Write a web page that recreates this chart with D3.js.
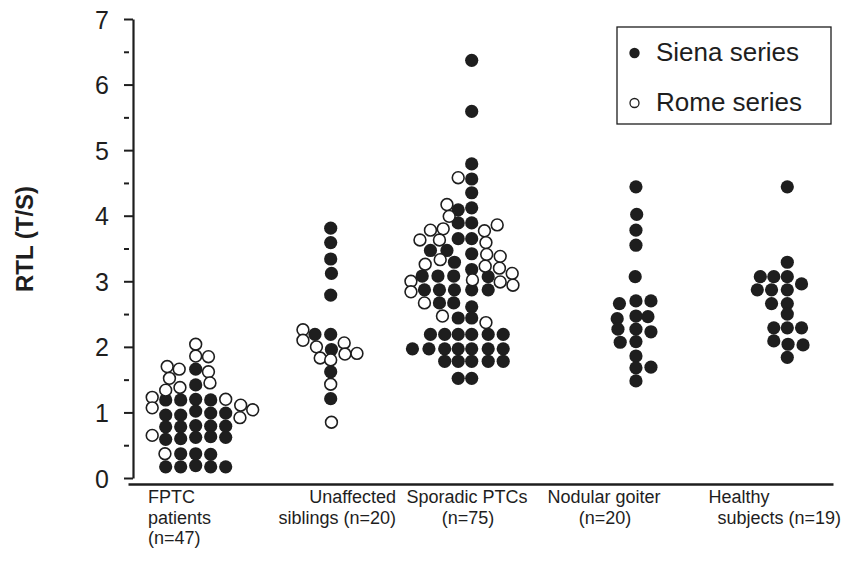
<!DOCTYPE html>
<html>
<head>
<meta charset="utf-8">
<script src="https://cdn.jsdelivr.net/npm/d3@7"></script>
<style>
  body { margin: 0; background: #fff; }
  svg { font-family: "Liberation Sans", Arial, Helvetica, sans-serif; }
</style>
</head>
<body>
<div id="chart"></div>
<script>

// groups along the x axis
var categories = ["FPTC patients", "Unaffected siblings", "Sporadic PTCs", "Nodular goiter", "Healthy subjects"];
// where each group's column of dots sits, in dot-column units
var groupSlot = [4.18, 13.18, 22.58, 33.53, 43.62];

// each dot is [RTL value, column within the group]
var fptcSiena = [
  [1.66, 0], [1.42, 0],
  [1.19, -2], [1.19, -1], [1.20, 0], [1.19, 1],
  [0.96, -2], [0.96, -1], [1.02, 0], [0.99, 1], [0.99, 2],
  [0.78, -2], [0.78, -1], [0.80, 0], [0.79, 1], [0.79, 2],
  [0.59, -2], [0.60, -1], [0.62, 0], [0.63, 1], [0.62, 2],
  [0.37, -1], [0.37, 0], [0.36, 1],
  [0.17, -2], [0.17, -1], [0.19, 0], [0.17, 1], [0.17, 2]
];
var fptcRome = [
  [2.04, 0], [1.86, 0], [1.85, 0.85], [1.70, -1.9], [1.66, -1.1], [1.62, 0.85],
  [1.52, -1.75], [1.45, 0.95], [1.34, -2], [1.38, -1.05], [1.23, -2.9], [1.07, -2.9],
  [1.20, 2.0], [1.11, 3.0], [1.04, 3.8], [0.92, 2.95], [0.65, -2.9], [0.37, -2.05]
];
var siblingsSiena = [
  [3.81, 0], [3.59, 0], [3.34, 0], [3.12, 0.05], [2.79, 0], [2.19, -1.05],
  [2.19, 0], [1.96, 0.05], [1.62, 0], [1.21, 0]
];
var siblingsRome = [
  [2.26, -1.85], [2.10, -1.85], [2.00, -0.95], [2.06, 0.9], [1.89, 0.95],
  [1.90, 1.75], [1.83, -0.7], [1.80, 0], [1.43, 0], [0.85, 0.05]
];
var sporadicSiena = [
  [6.37, 0], [5.59, 0], [4.79, 0], [4.56, 0], [4.35, 0], [4.09, -0.9], [4.12, 0], [3.89, -0.9], [3.89, 0],
  [3.65, -0.9], [3.65, 0], [3.47, -2.75], [3.47, -1.65], [3.42, 0], [3.29, -1.15], [3.18, 0],
  [3.08, -3.3], [3.08, -2.25], [3.08, -1.2], [3.07, 1.1],
  [2.87, -3.15], [2.87, -2.15], [2.87, -1.15], [2.87, 0], [2.87, 1.1],
  [2.67, -2.15], [2.67, -1.2], [2.61, 0], [2.44, -0.9], [2.44, 0],
  [2.19, -2.75], [2.19, -1.8], [2.19, -0.9], [2.19, 0], [2.19, 1.1], [2.19, 2.1],
  [1.97, -3.95], [1.97, -2.85], [1.97, -1.8], [1.97, -0.9], [1.97, 0], [1.97, 1.1], [1.97, 2.1],
  [1.78, -1.8], [1.78, -0.9], [1.78, 0], [1.78, 1.1], [1.78, 2.1],
  [1.52, -0.9], [1.52, 0]
];
var sporadicRome = [
  [4.58, -0.9], [4.17, -1.65], [3.99, -1.5], [3.80, -1.9], [3.78, -2.75], [3.77, 0.85], [3.86, 1.7],
  [3.63, -3.45], [3.63, -2.15], [3.59, 0.95], [3.41, 1.0], [3.38, 1.9], [3.33, -2.1], [3.26, -3.1],
  [3.23, 0.9], [3.20, 1.85], [3.12, 2.7], [3.02, 0.05], [2.99, 1.9], [2.94, 2.75], [3.00, -4.05],
  [2.84, -4.05], [2.67, -3.15], [2.47, -1.95], [2.37, 0.95]
];
var goiterSiena = [
  [4.44, 0], [4.02, 0.05], [3.78, 0], [3.55, 0], [3.07, -0.05], [2.66, -1.1], [2.70, 0], [2.70, 1.0],
  [2.43, -1.25], [2.47, 0], [2.46, 0.8], [2.27, -1.2], [2.27, 0], [2.23, 1.0], [2.07, -1.05],
  [2.08, 0], [1.86, 0], [1.68, 0], [1.69, 1.0], [1.48, 0]
];
var goiterRome = [];
var healthySiena = [
  [4.44, 0], [3.29, 0], [3.07, -1.8], [3.07, -0.9], [3.07, 0], [2.96, 0.95], [2.87, -2], [2.87, -1.05],
  [2.87, 0], [2.66, -1.05], [2.66, 0], [2.50, 0], [2.29, -0.9], [2.29, 0], [2.29, 0.95],
  [2.09, -0.9], [2.04, 0.05], [2.03, 1.05], [1.84, 0]
];
var healthyRome = [];

var yTicks = [0, 1, 2, 3, 4, 5, 6, 7];
var yMinorTicks = [0.5, 1.5, 2.5, 3.5, 4.5, 5.5, 6.5];
var seriesNames = ["Siena series", "Rome series"];

var sienaByGroup = [fptcSiena, siblingsSiena, sporadicSiena, goiterSiena, healthySiena];
var romeByGroup = [fptcRome, siblingsRome, sporadicRome, goiterRome, healthyRome];

var width = 850;
var height = 562;
var ink = "#1e1e1e";

// flatten into one list of dots, siena first so the open rome dots sit on top
var dots = [];
sienaByGroup.forEach(function(list, g) {
  list.forEach(function(d) { dots.push({ group: g, value: d[0], col: d[1], series: 0 }); });
});
romeByGroup.forEach(function(list, g) {
  list.forEach(function(d) { dots.push({ group: g, value: d[0], col: d[1], series: 1 }); });
});

var svg = d3.select("#chart").append("svg")
  .attr("width", width)
  .attr("height", height);

// x runs in dot-column units, one column is 15px
var x = d3.scaleLinear().domain([0, 47]).range([133, 838]);
var y = d3.scaleLinear().domain([0, 7]).range([478, 19]);

// y axis with major ticks
var yAxis = svg.append("g")
  .attr("transform", "translate(133,0)")
  .call(d3.axisLeft(y).tickValues(yTicks).tickFormat(d3.format("d"))
    .tickSize(9).tickSizeOuter(0).tickPadding(15));
yAxis.select(".domain").attr("stroke", ink).attr("stroke-width", 2.2);
yAxis.selectAll(".tick line").attr("stroke", ink).attr("stroke-width", 2);
yAxis.selectAll(".tick text")
  .attr("fill", ink)
  .style("font-size", "25px")
  .attr("dy", "0.36em");

// minor ticks, slightly detached from the axis line
var yMinor = svg.append("g")
  .attr("transform", "translate(129,0)")
  .call(d3.axisLeft(y).tickValues(yMinorTicks).tickSize(5).tickFormat(""));
yMinor.select(".domain").remove();
yMinor.selectAll(".tick line").attr("stroke", ink).attr("stroke-width", 2);

// bare x axis line
var xAxis = svg.append("g")
  .attr("transform", "translate(-5,484)")
  .call(d3.axisBottom(x).tickValues([]).tickSizeOuter(0));
xAxis.select(".domain").attr("stroke", ink).attr("stroke-width", 2.4);

// y axis title
svg.append("text")
  .attr("transform", "translate(33,239) rotate(-90)")
  .attr("text-anchor", "middle")
  .attr("fill", ink)
  .style("font-size", "24px")
  .style("font-weight", "bold")
  .text("RTL (T/S)");

// category labels, one entry per line: [text, x, anchor, row]
var labelLines = [
  ["FPTC", 148, "start", 0], ["patients", 148, "start", 1], ["(n=47)", 148, "start", 2],
  ["Unaffected", 396, "end", 0], ["siblings (n=20)", 396, "end", 1],
  ["Sporadic PTCs", 467, "middle", 0], ["(n=75)", 468, "middle", 1],
  ["Nodular goiter", 604, "middle", 0], ["(n=20)", 605, "middle", 1],
  ["Healthy", 739, "middle", 0], ["subjects (n=19)", 841, "end", 1]
];
svg.append("g").selectAll("text")
  .data(labelLines)
  .enter().append("text")
  .attr("x", function(d) { return d[1]; })
  .attr("y", function(d) { return 503 + d[3] * 20.5; })
  .attr("text-anchor", function(d) { return d[2]; })
  .attr("fill", ink)
  .style("font-size", "18px")
  .text(function(d) { return d[0]; });

// the dots
svg.append("g").selectAll("circle")
  .data(dots)
  .enter().append("circle")
  .attr("cx", function(d) { return x(groupSlot[d.group] + d.col); })
  .attr("cy", function(d) { return y(d.value); })
  .attr("r", function(d) { return d.series === 0 ? 6.6 : 5.9; })
  .attr("fill", function(d) { return d.series === 0 ? ink : "#fff"; })
  .attr("stroke", ink)
  .attr("stroke-width", function(d) { return d.series === 0 ? 0 : 1.6; });

// legend
var legend = svg.append("g").attr("transform", "translate(617,27)");
legend.append("rect")
  .attr("width", 214)
  .attr("height", 97)
  .attr("fill", "#fff")
  .attr("stroke", ink)
  .attr("stroke-width", 1.3);
var item = legend.selectAll(".item")
  .data(seriesNames)
  .enter().append("g")
  .attr("class", "item")
  .attr("transform", function(d, i) { return "translate(0," + (26 + i * 50) + ")"; });
item.append("circle")
  .attr("cx", 17.5)
  .attr("r", function(d, i) { return i === 0 ? 5.2 : 4.5; })
  .attr("fill", function(d, i) { return i === 0 ? ink : "#fff"; })
  .attr("stroke", ink)
  .attr("stroke-width", function(d, i) { return i === 0 ? 0 : 1.3; });
item.append("text")
  .attr("x", 39)
  .attr("y", 8)
  .attr("fill", ink)
  .style("font-size", "26px")
  .text(function(d) { return d; });

</script>
</body>
</html>
